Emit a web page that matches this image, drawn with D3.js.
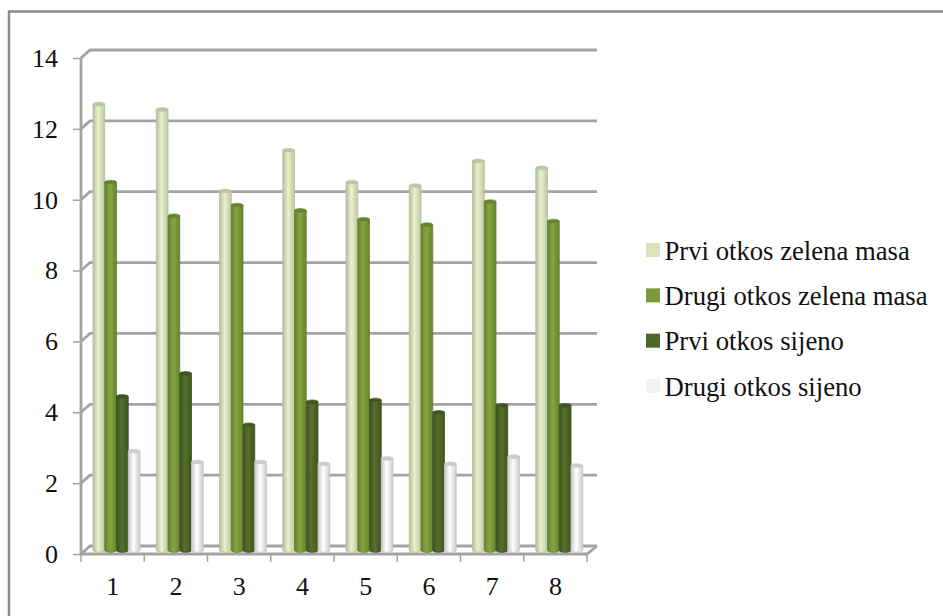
<!DOCTYPE html>
<html>
<head>
<meta charset="utf-8">
<script src="https://cdn.jsdelivr.net/npm/d3@7"></script>
<style>
html, body { margin: 0; padding: 0; background: #fff; }
text { font-family: "Liberation Serif", serif; fill: #111; }
</style>
</head>
<body>
<div id="chart"></div>
<script>
// values
var categories = ["1", "2", "3", "4", "5", "6", "7", "8"];
var seriesNames = ["Prvi otkos zelena masa", "Drugi otkos zelena masa", "Prvi otkos sijeno", "Drugi otkos sijeno"];
var prviZelena = [12.6, 12.45, 10.15, 11.3, 10.4, 10.3, 11, 10.8];
var drugiZelena = [10.4, 9.45, 9.75, 9.6, 9.35, 9.2, 9.85, 9.3];
var prviSijeno = [4.35, 5, 3.55, 4.2, 4.25, 3.9, 4.1, 4.1];
var drugiSijeno = [2.8, 2.5, 2.5, 2.45, 2.6, 2.45, 2.65, 2.4];
var yTicks = [0, 2, 4, 6, 8, 10, 12, 14];

var seriesValues = [prviZelena, drugiZelena, prviSijeno, drugiSijeno];
var legendColors = ["#d9e4bd", "#7a9a3c", "#50672a", "#f2f2f2"];
// left edge, middle, right edge of each cylinder
var barShades = [
	["#b4bfa0", "#e8f2cb", "#bcc8a4"],
	["#64822e", "#86a640", "#668430"],
	["#3f5320", "#566f2d", "#40551f"],
	["#c8c8c8", "#ffffff", "#cccccc"]
];

var width = 943, height = 616;
var fontSize = 26;
var legendFontSize = 26.7;
// depth of the 3d box
var depthX = 9, depthY = 8;

var svg = d3.select("#chart").append("svg")
	.attr("width", width)
	.attr("height", height)
	.style("display", "block");

var y = d3.scaleLinear().domain([0, 14]).range([554, 58]);
var x = d3.scaleBand().domain(categories).range([81, 587]);
var xBar = d3.scaleBand().domain(d3.range(seriesNames.length)).range([12, 59]);

// outer frame, only the top and left edges show
svg.append("path")
	.attr("d", "M9,616V11.5H943")
	.attr("fill", "none")
	.attr("stroke", "#8a8a8a")
	.attr("stroke-width", 2.5);

var defs = svg.append("defs");
barShades.forEach(function (s, i) {
	var g = defs.append("linearGradient").attr("id", "bar" + i);
	g.append("stop").attr("offset", "0%").attr("stop-color", s[0]);
	g.append("stop").attr("offset", "45%").attr("stop-color", s[1]);
	g.append("stop").attr("offset", "100%").attr("stop-color", s[2]);
});

// grid on the back wall and the side wall
var grey = "#a3a3a3";
var grid = svg.append("g").attr("fill", "none").attr("stroke", grey).attr("stroke-width", 2.8);
grid.selectAll("path.wall")
	.data(yTicks)
	.enter().append("path")
	.attr("class", "wall")
	.attr("d", function (d) {
		return "M" + x.range()[0] + "," + y(d) +
			"L" + (x.range()[0] + depthX) + "," + (y(d) - depthY) +
			"H" + (x.range()[1] + depthX + 1);
	});

// floor front edge and side wall edge
grid.append("path")
	.attr("d", "M" + x.range()[0] + "," + y(14) + "V" + y(0) + "H" + x.range()[1] +
		"L" + (x.range()[1] + depthX + 1) + "," + (y(0) - depthY));

// tick marks
var yAxis = d3.axisLeft(y).tickValues(yTicks).tickSize(8).tickPadding(15);
var yG = svg.append("g").attr("transform", "translate(81,0)").call(yAxis);
var xAxis = d3.axisBottom(x).tickSize(0).tickPadding(23);
var xG = svg.append("g").attr("transform", "translate(0,554)").call(xAxis);
yG.select(".domain").remove();
xG.select(".domain").remove();
yG.selectAll("line").attr("stroke", grey).attr("stroke-width", 1.5);
yG.selectAll("text").attr("font-size", fontSize).style("font-family", '"Liberation Serif", serif').style("fill", "#111");
xG.selectAll("text").attr("font-size", fontSize).style("font-family", '"Liberation Serif", serif').style("fill", "#111");

// tick marks between the categories
svg.append("g").selectAll("line")
	.data(categories.concat(["end"]))
	.enter().append("line")
	.attr("x1", function (d, i) { return x.range()[0] + i * x.bandwidth(); })
	.attr("x2", function (d, i) { return x.range()[0] + i * x.bandwidth(); })
	.attr("y1", y(0)).attr("y2", y(0) + 8)
	.attr("stroke", grey).attr("stroke-width", 1.5);

// the bars, drawn as cylinders
var barOffsetY = 3.5;
seriesValues.forEach(function (values, s) {
	var group = svg.append("g").attr("class", "series" + s);
	var bw = xBar.bandwidth();
	values.forEach(function (v, i) {
		var left = x(categories[i]) + xBar(s);
		var top = y(v) - barOffsetY;
		var base = y(0) - barOffsetY;
		var rx = bw / 2, ry = 1.8;
		group.append("path")
			.attr("d", "M" + left + "," + top +
				"V" + base +
				"A" + rx + "," + ry + " 0 0 0 " + (left + bw) + "," + base +
				"V" + top + "Z")
			.attr("fill", "url(#bar" + s + ")")
			.attr("stroke", barShades[s][0])
			.attr("stroke-width", 0.8);
		group.append("ellipse")
			.attr("cx", left + rx).attr("cy", top)
			.attr("rx", rx).attr("ry", ry)
			.attr("fill", barShades[s][2])
			.attr("stroke", barShades[s][0])
			.attr("stroke-width", 0.6);
	});
});

// legend
var legend = svg.append("g");
var legendY = d3.scalePoint().domain(seriesNames).range([250, 386]);
seriesNames.forEach(function (name, i) {
	legend.append("rect")
		.attr("x", 646).attr("y", legendY(name) - 7)
		.attr("width", 14).attr("height", 14)
		.attr("fill", legendColors[i]);
	legend.append("text")
		.attr("x", 664.5).attr("y", legendY(name) + 9.5)
		.attr("font-size", legendFontSize)
		.text(name);
});
</script>
</body>
</html>
